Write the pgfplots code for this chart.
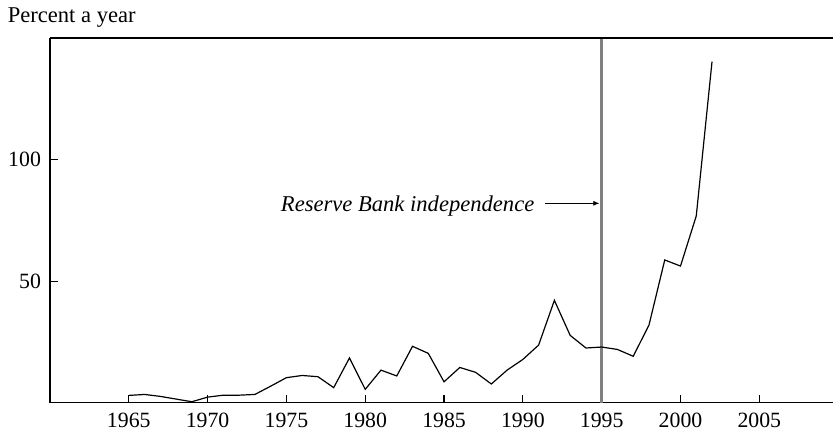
\documentclass[border=0pt]{standalone}
\usepackage{fontspec}
\setmainfont{Liberation Serif}
\usepackage{pgfplots}
\pgfplotsset{compat=1.18}
\usetikzlibrary{arrows.meta}
\begin{document}
\begin{tikzpicture}[font=\fontsize{11.3}{13.5}\selectfont]
\begin{axis}[
  scale only axis,
  width=392pt, height=182.5pt,
  xmin=1960, xmax=2009.7,
  ymin=0, ymax=150,
  axis x line*=bottom, axis y line*=left,
  axis line style={-, line width=0.6pt},
  xtick={1965,1970,...,2005},
  ytick={50,100},
  tick align=inside,
  major tick length=4pt,
  tick style={line width=0.6pt, black},
  tick label style={font=\fontsize{10.9}{13}\selectfont},
  xticklabel style={/pgf/number format/1000 sep={}, yshift=-1.8pt},
  yticklabel style={xshift=-1pt},
  /pgf/number format/assume math mode=true,
  clip=false,
]
\addplot[black!50, line width=1.2pt] coordinates {(1995,0) (1995,150)};
\addplot[black, line width=0.6pt] coordinates {
(1965,3.0) (1966,3.4) (1967,2.6) (1968,1.5) (1969,0.4) (1970,2.3)
(1971,3.1) (1972,3.1) (1973,3.4) (1974,6.8) (1975,10.3) (1976,11.2)
(1977,10.7) (1978,6.2) (1979,18.4) (1980,5.5) (1981,13.4) (1982,11.0)
(1983,23.2) (1984,20.3) (1985,8.6) (1986,14.5) (1987,12.5) (1988,7.7)
(1989,13.4) (1990,17.8) (1991,23.7) (1992,42.1) (1993,27.7) (1994,22.5)
(1995,22.9) (1996,21.9) (1997,19.1) (1998,31.9) (1999,58.7) (2000,56.2)
(2001,76.8) (2002,140.3)
};
\draw[line width=0.6pt] (rel axis cs:0,1) -- (rel axis cs:1,1);
\draw[line width=0.4pt, -{Latex[length=3pt,width=2.5pt]}] (axis cs:1991.4,82) -- (axis cs:1994.85,82);
\node[anchor=east, inner sep=0pt, font=\fontsize{11.3}{13.5}\selectfont\itshape] at (axis cs:1990.75,81) {Reserve Bank independence};
\node[anchor=base west, inner sep=0pt] at ([xshift=-21.3pt,yshift=7.9pt]rel axis cs:0,1) {Percent a year};
\path ([xshift=-25pt,yshift=-15pt]rel axis cs:0,0) rectangle ([yshift=19pt]rel axis cs:1,1);
\end{axis}
\end{tikzpicture}
\end{document}
